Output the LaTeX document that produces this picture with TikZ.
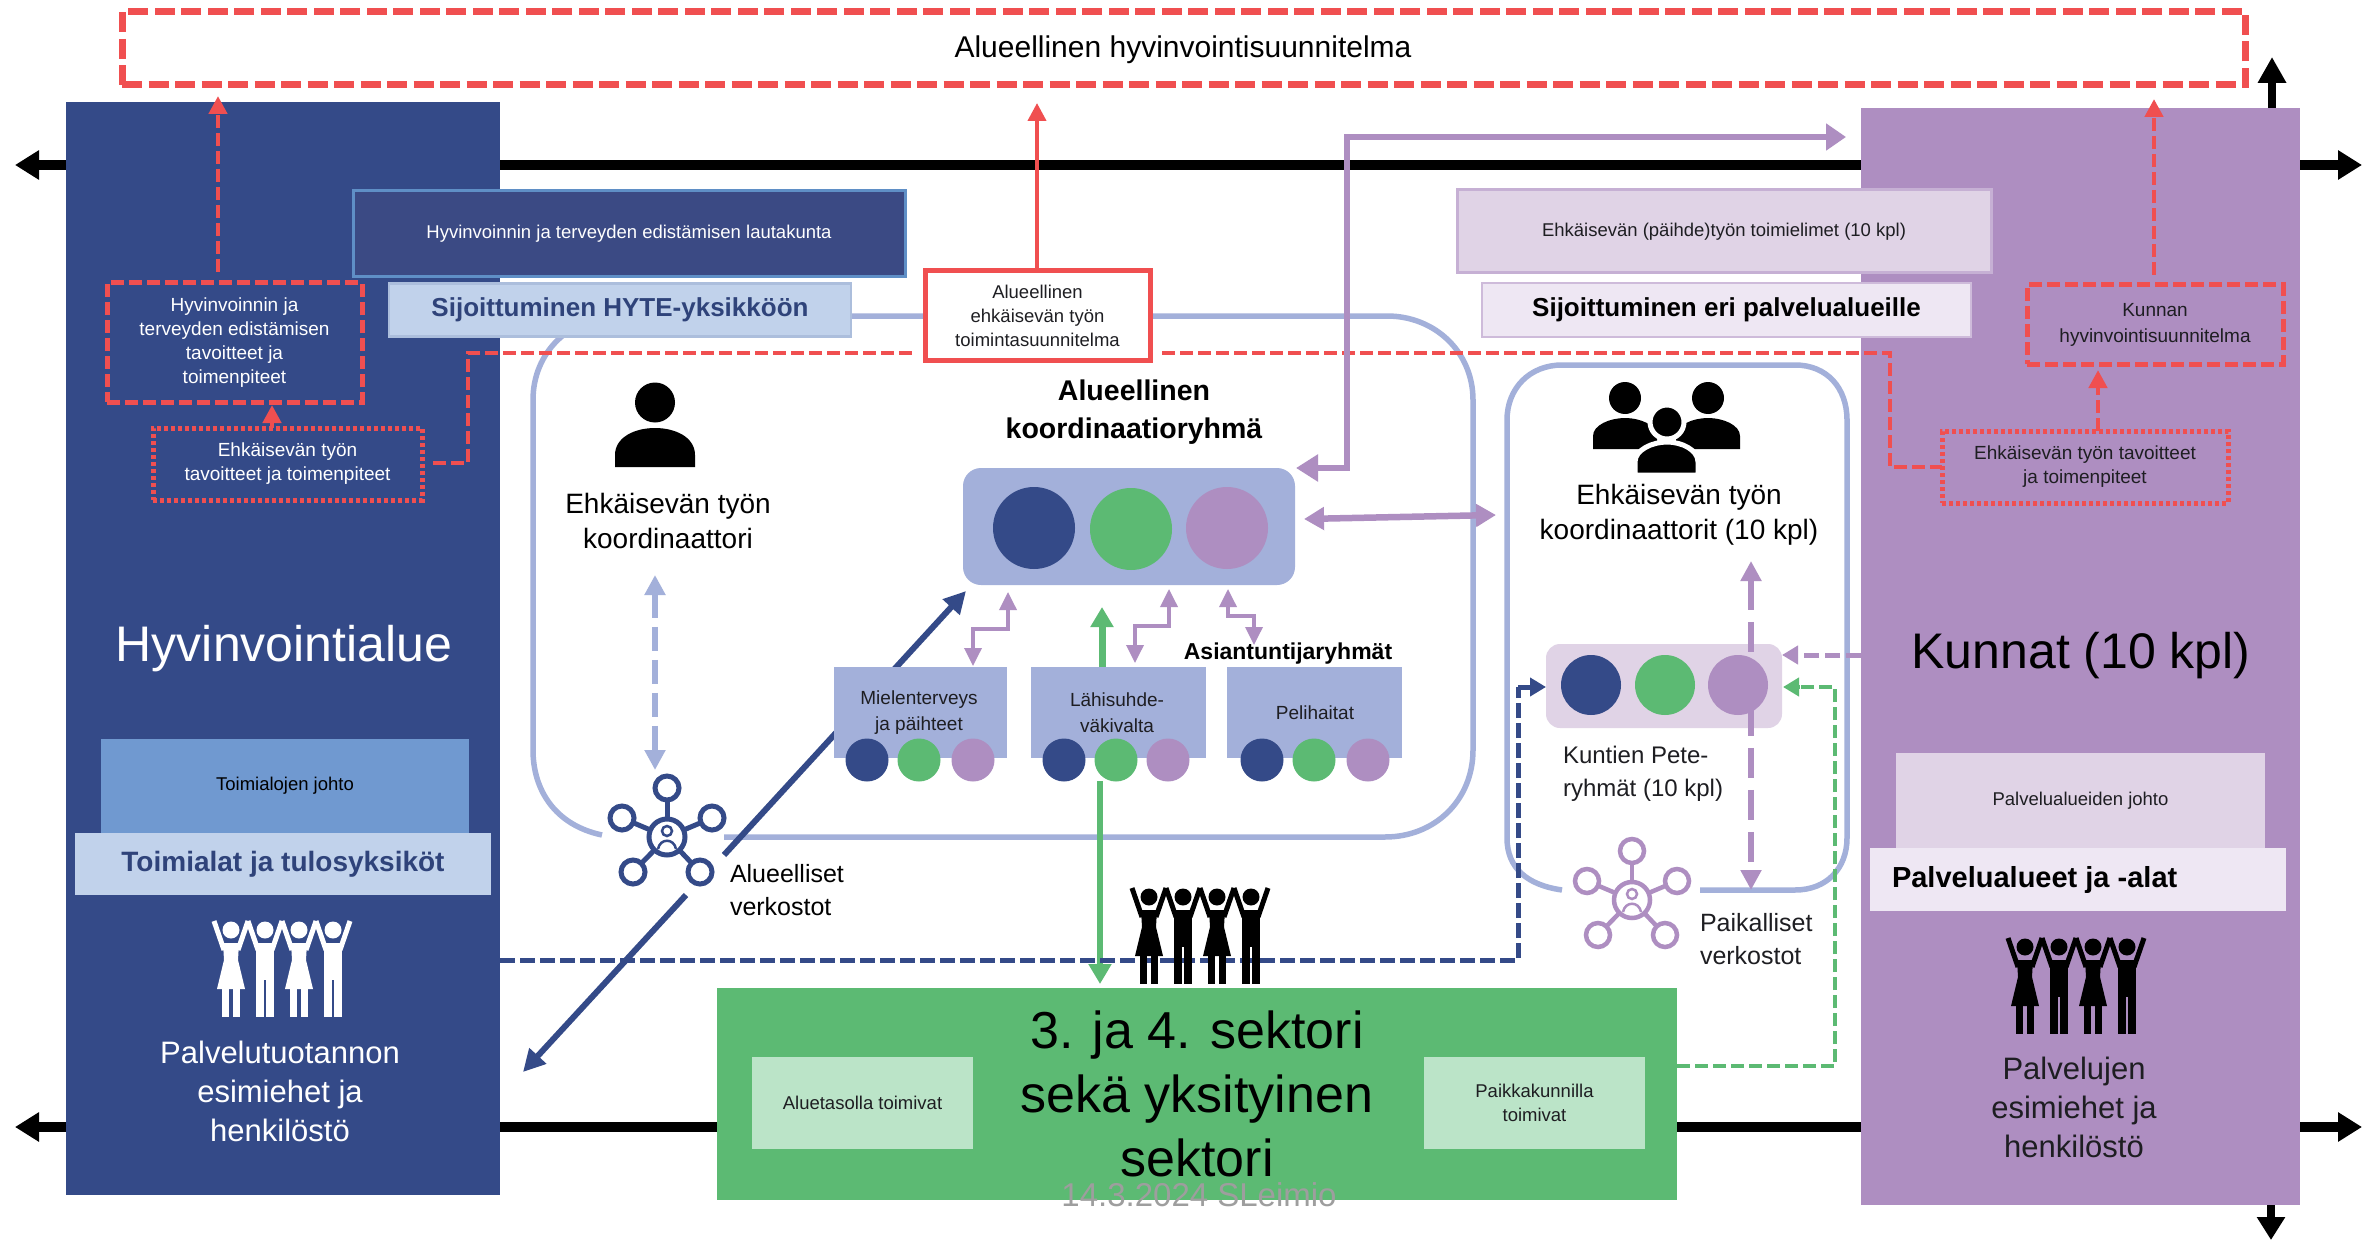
\documentclass[tikz,border=0pt]{standalone}
\usepackage{fontspec}
\setmainfont{Liberation Sans}
\usetikzlibrary{arrows.meta,calc}
\definecolor{navy}{HTML}{344A88}
\definecolor{navyb}{HTML}{3B4A84}
\definecolor{edgeb}{HTML}{5F8FC6}
\definecolor{midb}{HTML}{7099D0}
\definecolor{paleb}{HTML}{C1D2EB}
\definecolor{peri}{HTML}{A3B0DA}
\definecolor{purp}{HTML}{AE8EC1}
\definecolor{lilac}{HTML}{E0D3E6}
\definecolor{palep}{HTML}{EEE7F3}
\definecolor{grn}{HTML}{5CBA73}
\definecolor{paleg}{HTML}{BBE4C8}
\definecolor{redd}{HTML}{F04F50}
\definecolor{ink}{HTML}{1E1E22}
\newcommand\fsz[2]{\fontsize{#1}{#2}\selectfont}
\tikzset{
 lbl/.style={inner sep=0pt,outer sep=0pt,align=center},
 panel/.style={inner sep=0pt,outer sep=0pt,draw=none,align=center},
 dotcirc/.style={circle,inner sep=0pt,outer sep=0pt,minimum size=#1},
 ringline/.style={draw=peri,line width=5.5pt},
 blackarrowb/.style={line width=10pt,{Triangle[length=24pt,width=28pt]}-{Triangle[length=24pt,width=28pt]}},
 reddash/.style={draw=redd,line width=5pt,dash pattern=on 13pt off 5pt},
 reddot/.style={draw=redd,line width=5pt,dash pattern=on 4pt off 3pt},
 redarrow/.style={draw=redd,line width=4.5pt,dash pattern=on 13pt off 5pt,-{Triangle[length=18pt,width=18pt]}},
 smallpurp/.style={draw=purp,line width=3.5pt,{Triangle[length=18pt,width=17pt]}-{Triangle[length=18pt,width=17pt]}},
}
\newcommand\crowd[3]{%
 \begin{scope}[shift={(#1,#2)}]
 \foreach \cx/\kind in {19/0,53/1,87/0,121/1}{
  \fill[#3] (\cx,10) circle (8.5);
  \draw[#3,line width=5pt] (\cx-7,30) -- (\cx-17,1);
  \draw[#3,line width=5pt] (\cx+7,30) -- (\cx+17,1);
  \ifnum\kind=0
   \fill[#3] (\cx-8,23) -- (\cx+8,23) -- (\cx+7,40) -- (\cx+14,69) -- (\cx-14,69) -- (\cx-7,40) -- cycle;
   \fill[#3] (\cx-9,69) rectangle (\cx-2,97);
   \fill[#3] (\cx+2,69) rectangle (\cx+9,97);
  \else
   \fill[#3] (\cx-9,23) rectangle (\cx+9,60);
   \fill[#3] (\cx-9,60) rectangle (\cx-1,97);
   \fill[#3] (\cx+1,60) rectangle (\cx+9,97);
  \fi
 }
 \end{scope}}
\newcommand\netw[4]{%
 \begin{scope}[shift={(#1,#2)}]
 \foreach \ox/\oy in {0/-49,-45/-19,45/-19,-34/35,33/35}{
   \draw[#3,line width=#4] ($(0,0)!19pt!(\ox,\oy)$) -- ($(\ox,\oy)!12pt!(0,0)$);
   \draw[#3,line width=#4] (\ox,\oy) circle (12);
 }
 \draw[#3,line width=#4] (0,0) circle (18);
 \draw[#3,line width=2.5pt] (0,-6) circle (5);
 \draw[#3,line width=2.5pt] (-9,12) .. controls (-7,1) and (7,1) .. (9,12);
 \end{scope}}
\begin{document}
\begin{tikzpicture}[x=1pt,y=-1pt]
\useasboundingbox (0,0) rectangle (2374,1241);
\fill[white] (0,0) rectangle (2374,1241);
% black axes
\coordinate (axTL) at (15,165); \coordinate (axTR) at (2362,165);
\coordinate (axBL) at (15,1127); \coordinate (axBR) at (2362,1127);
\draw[blackarrowb] (axTL) -- (axTR);
\draw[blackarrowb] (axBL) -- (axBR);
% group outlines
\draw[ringline] (724,837) -- (1385,837) .. controls (1435,837) and (1473,800) .. (1473,750) -- (1473,400) .. controls (1473,352) and (1435,316) .. (1387,316) -- (620,316) .. controls (570,316) and (533,352) .. (533,400) -- (533,750) .. controls (533,790) and (555,825) .. (602,835);
\draw[ringline] (1700,890) -- (1795,890) .. controls (1827,890) and (1847,868) .. (1847,838) -- (1847,420) .. controls (1847,388) and (1827,365) .. (1795,365) -- (1562,365) .. controls (1530,365) and (1507,388) .. (1507,420) -- (1507,838) .. controls (1507,868) and (1527,885) .. (1562,890);
% panels
\node[panel,fill=navy,minimum width=434pt,minimum height=1093pt] (hva) at (283,648.5) {};
\node[panel,fill=purp,minimum width=439pt,minimum height=1097pt] (kun) at (2080.5,656.5) {};
\coordinate (upA) at (2272,108); \coordinate (upB) at (2272,57);
\coordinate (dnA) at (2271,1205); \coordinate (dnB) at (2271,1240);
\draw[line width=8pt,-{Triangle[length=26pt,width=27pt]}] (upA) -- (upB);
\draw[line width=8pt,-{Triangle[length=23pt,width=27pt]}] (dnA) -- (dnB);
% top box
\node[lbl,draw=redd,line width=7pt,dash pattern=on 20pt off 6.5pt,minimum width=2123pt,minimum height=73pt] (plan) at (1183.5,48.5) {};
\node[lbl,font=\fsz{30}{36}] (plant) at (1183,50) {Alueellinen hyvinvointisuunnitelma};
% left panel content
\node[panel,fill=navyb,draw=edgeb,line width=3pt,minimum width=552pt,minimum height=86pt,text=white,font=\fsz{18.5}{24}] (laut) at (629,234) {Hyvinvoinnin ja terveyden edistämisen lautakunta};
\node[panel,fill=paleb,draw=paleb!85!navy,line width=2.5pt,minimum width=462pt,minimum height=53pt,text=navy!90!black,font=\bfseries\fsz{26}{30}] (hyte) at (620,310) {Sijoittuminen HYTE-yksikköön};
\node[lbl,reddash,minimum width=255pt,minimum height=119pt,text=white,font=\fsz{19}{24}] (hytav) at (234.5,342.5) {Hyvinvoinnin ja\\terveyden edistämisen\\tavoitteet ja\\toimenpiteet};
\node[lbl,reddot,minimum width=269pt,minimum height=72pt,text=white,font=\fsz{19}{24}] (ehkL) at (287.5,464) {Ehkäisevän työn\\tavoitteet ja toimenpiteet};
\node[lbl,text=white,font=\fsz{50}{60}] (hvt) at (284,649) {Hyvinvointialue};
\node[panel,fill=midb,minimum width=368pt,minimum height=94pt,font=\fsz{18.5}{24}] (tjoh) at (285,786) {Toimialojen johto};
\node[panel,fill=paleb,minimum width=416pt,minimum height=62pt,text=navy!90!black,font=\bfseries\fsz{28}{32}] (tala) at (283,864) {Toimialat ja tulosyksiköt};
\crowd{212}{920}{white}
\node[lbl,text=white,font=\fsz{31}{39}] (palvL) at (280,1091) {Palvelutuotannon\\esimiehet ja\\henkilöstö};
% right panel content
\node[panel,fill=lilac,draw=purp!70!white,line width=3pt,minimum width=534pt,minimum height=83pt,text=ink,font=\fsz{18.5}{24}] (toim) at (1724,231.5) {Ehkäisevän (päihde)työn toimielimet (10 kpl)};
\node[panel,fill=palep,draw=purp!60!white,line width=2.5pt,minimum width=489pt,minimum height=54pt,font=\bfseries\fsz{26}{30}] (sijo) at (1726.5,310) {Sijoittuminen eri palvelualueille};
\node[lbl,reddash,minimum width=256pt,minimum height=79pt,text=ink,font=\fsz{19}{26}] (kplan) at (2155,324.5) {Kunnan\\hyvinvointisuunnitelma};
\node[lbl,reddot,minimum width=286pt,minimum height=72pt,text=ink,font=\fsz{19}{24}] (ehkR) at (2085,467) {Ehkäisevän työn tavoitteet\\ja toimenpiteet};
\node[lbl,text=black,font=\fsz{50}{60}] (kunt) at (2081,656) {Kunnat (10 kpl)};
\node[panel,fill=lilac,minimum width=369pt,minimum height=95pt,font=\fsz{18.5}{24},text=ink] (pjoh) at (2080.5,800.5) {Palvelualueiden johto};
\node[panel,fill=palep,minimum width=416pt,minimum height=63pt] (palu) at (2078,879.5) {};
\node[lbl,anchor=west,font=\bfseries\fsz{29}{34}] (palut) at (1892,880) {Palvelualueet ja -alat};
\crowd{2006}{937}{black}
\node[lbl,text=ink,font=\fsz{31}{39}] (palvR) at (2074,1107) {Palvelujen\\esimiehet ja\\henkilöstö};
% red links
\coordinate (rA) at (433,463); \coordinate (rB) at (468,463); \coordinate (rC) at (468,353);
\coordinate (rD) at (912,353); \coordinate (rE) at (1162,353); \coordinate (rF) at (1890,353); \coordinate (rG) at (1890,467);
\draw[reddash,line width=4.5pt] (rA) -- (rB) -- (rC) -- (rD);
\draw[reddash,line width=4.5pt] (rE) -- (rF) -- (rG) -- (ehkR.west);
\coordinate (t1) at (218,96); \coordinate (t2) at (2154,99); \coordinate (t3) at (1037,103);
\draw[redarrow] (218,272) -- (t1);
\draw[redarrow] (272,428) -- (272,405);
\draw[redarrow] (2154,275) -- (t2);
\draw[redarrow] (2098,431) -- (2098,370);
% people icons
\fill (655,402.5) circle (20);
\fill (615,467) -- (615,455) .. controls (615,437) and (635,428) .. (655,428) .. controls (675,428) and (695,437) .. (695,455) -- (695,467) -- cycle;
\fill (1625,398) circle (16); \fill (1708,398) circle (16);
\fill (1593,449) -- (1593,436) .. controls (1593,425) and (1610,418) .. (1625,418) .. controls (1640,418) and (1657,425) .. (1657,436) -- (1657,449) -- cycle;
\fill (1676,449) -- (1676,436) .. controls (1676,425) and (1693,418) .. (1708,418) .. controls (1723,418) and (1740,425) .. (1740,436) -- (1740,449) -- cycle;
\filldraw[draw=white,line width=5pt,fill=black] (1667,422) circle (17);
\filldraw[draw=white,line width=5pt,fill=black] (1635,475) -- (1635,462) .. controls (1635,450) and (1652,442) .. (1667,442) .. controls (1682,442) and (1698,450) .. (1698,462) -- (1698,475) -- cycle;
% texts
\node[lbl,font=\fsz{28}{35}] (koordL) at (668,521) {Ehkäisevän työn\\koordinaattori};
\node[lbl,font=\bfseries\fsz{28.5}{38}] (alkr) at (1134,412) {Alueellinen\\koordinaatioryhmä};
\node[lbl,font=\fsz{28}{35}] (koordR) at (1679,515) {Ehkäisevän työn\\koordinaattorit (10 kpl)};
% regional group box
\node[panel,fill=peri,rounded corners=18pt,minimum width=332pt,minimum height=117pt] (kr) at (1129,526.5) {};
\node[dotcirc=82pt,fill=navy] (kr1) at (1034,528) {};
\node[dotcirc=82pt,fill=grn] (kr2) at (1131,529) {};
\node[dotcirc=82pt,fill=purp] (kr3) at (1227,528) {};
% expert boxes
\draw[navy,line width=6pt,-{Triangle[length=22pt,width=22pt]}] (724,855) -- (966,591);
\draw[navy,line width=6pt,-{Triangle[length=22pt,width=22pt]}] (686,895) -- (523,1072);
\node[panel,fill=peri,minimum width=173pt,minimum height=91pt] (g1) at (920.5,712.5) {};
\node[panel,fill=peri,minimum width=175pt,minimum height=91pt] (g2) at (1118.5,712.5) {};
\node[panel,fill=peri,minimum width=175pt,minimum height=91pt] (g3) at (1314.5,712.5) {};
\node[lbl,font=\fsz{19}{26},text=ink] (g1t) at (919,713) {Mielenterveys\\ja päihteet};
\node[lbl,font=\fsz{19}{26},text=ink] (g2t) at (1117,713) {Lähisuhde-\\väkivalta};
\node[lbl,font=\fsz{19}{26},text=ink] (g3t) at (1315,713) {Pelihaitat};
\node[lbl,font=\bfseries\fsz{23}{28}] (asi) at (1288,654) {Asiantuntijaryhmät};
\foreach \n/\cx/\cc in {a/867/navy,b/919/grn,c/973/purp,d/1064/navy,e/1116/grn,f/1168/purp,g/1262/navy,h/1314/grn,i/1368/purp}{
  \node[dotcirc=43pt,fill=\cc] (c\n) at (\cx,760) {};
}
\draw[smallpurp] (973,666) -- (973,629) -- (1008,629) -- (1008,592);
\draw[smallpurp] (1135,663) -- (1135,626) -- (1169,626) -- (1169,589);
\draw[smallpurp] (1228,589) -- (1228,616) -- (1254,616) -- (1254,645);
% purple links
\draw[draw=purp,line width=6.5pt,{Triangle[length=22pt,width=26pt]}-{Triangle[length=20pt,width=26pt]}] (1296,468) -- (1347,468) -- (1347,137) -- (1846,137);
\draw[draw=purp,line width=6.5pt,{Triangle[length=20pt,width=22pt]}-{Triangle[length=20pt,width=22pt]}] (1304,519) -- (1496,515);
\draw[draw=peri,line width=5.5pt,dash pattern=on 24pt off 9pt,{Triangle[length=20pt,width=20pt]}-{Triangle[length=20pt,width=20pt]}] (655,575) -- (655,770);
% green links
\draw[draw=grn,line width=7pt,-{Triangle[length=20pt,width=22pt]}] (1102,667) -- (1102,607);
\draw[draw=grn,line width=6pt,-{Triangle[length=20pt,width=22pt]}] (1100,781) -- (1100,984);
% municipal group
\node[panel,fill=lilac,rounded corners=14pt,minimum width=236pt,minimum height=84pt] (pete) at (1664,686) {};
\draw[draw=purp,line width=6pt,dash pattern=on 30pt off 12pt,{Triangle[length=20pt,width=20pt]}-{Triangle[length=20pt,width=20pt]}] (1751,561) -- (1751,890);
\node[dotcirc=60pt,fill=navy] (p1) at (1591,685) {};
\node[dotcirc=60pt,fill=grn] (p2) at (1665,685) {};
\node[dotcirc=60pt,fill=purp] (p3) at (1738,685) {};
\node[lbl,align=left,anchor=west,font=\fsz{24}{33},text=ink] (petet) at (1563,773.5) {Kuntien Pete-\\ryhmät (10 kpl)};
\netw{667}{837}{navy}{5pt}
\netw{1632}{900}{purp}{4.5pt}
\node[lbl,align=left,anchor=west,font=\fsz{25}{33}] (alv) at (730,890) {Alueelliset\\verkostot};
\node[lbl,align=left,anchor=west,font=\fsz{25}{33},text=ink] (pav) at (1700,939) {Paikalliset\\verkostot};
% dashed connectors
\coordinate (nd) at (500,960);
\draw[navy,line width=5pt,dash pattern=on 15pt off 5pt] (hva.east |- nd) -- (1518,960) -- (1518,687);
\draw[navy,line width=5pt,-{Triangle[length=16pt,width=18pt]}] (1518,687) -- (pete.west |- 1518,687);
\draw[grn,line width=4pt,dash pattern=on 13pt off 5pt] (1677,1066) -- (1835,1066) -- (1835,687) -- (1795,687);
\draw[grn,line width=4pt,-{Triangle[length=16pt,width=18pt]}] (1800,687) -- (1783,687);
\draw[purp,line width=5pt,dash pattern=on 15pt off 6pt,-{Triangle[length=16pt,width=18pt]}] (kun.west |- 1783,655) -- (1782,655);
% third sector
\node[panel,fill=grn,minimum width=960pt,minimum height=212pt] (sek) at (1197,1094) {};
\crowd{1130}{887}{black}
\node[panel,fill=paleg,minimum width=221pt,minimum height=92pt,font=\fsz{18.5}{24},text=ink] (alt) at (862.5,1103) {Aluetasolla toimivat};
\node[panel,fill=paleg,minimum width=221pt,minimum height=92pt,font=\fsz{18.5}{24},text=ink] (pkt) at (1534.5,1103) {Paikkakunnilla\\toimivat};
\node[lbl,font=\fsz{52}{64}] (sekt) at (1197,1094) {3. ja 4. sektori\\sekä yksityinen\\sektori};
\node[lbl,font=\fsz{33}{40},text=black!38] (date) at (1199,1195) {14.3.2024 SLeimio};
% solid red box on top
\draw[draw=redd,line width=4pt,-{Triangle[length=18pt,width=18pt]}] (1037,271) -- (t3);
\node[panel,fill=white,draw=redd,line width=5pt,minimum width=225pt,minimum height=89pt,font=\fsz{18.5}{24},text=ink] (ehktp) at (1037.5,315.5) {Alueellinen\\ehkäisevän työn\\toimintasuunnitelma};
\end{tikzpicture}
\end{document}
